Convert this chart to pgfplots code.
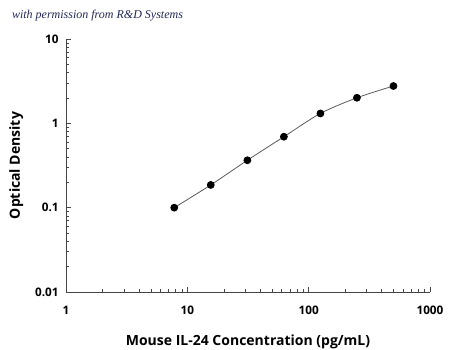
\documentclass[border=0pt]{standalone}
\usepackage{fontspec}
\setmainfont{Open Sans}
\newfontfamily\scriptf{Liberation Serif}
\usepackage{pgfplots}
\pgfplotsset{compat=1.18}
\definecolor{axgray}{RGB}{70,70,70}
\definecolor{curvegray}{RGB}{90,90,90}
\definecolor{titleblue}{RGB}{35,40,85}
\begin{document}
\begin{tikzpicture}
\useasboundingbox (-49.5pt,-43.5pt) rectangle (288pt,219pt);
\begin{axis}[
  at={(0,0)}, anchor=south west,
  scale only axis, width=273pt, height=189.75pt,
  xmode=log, ymode=log,
  xmin=1, xmax=1000, ymin=0.01, ymax=10,
  axis x line*=bottom, axis y line*=left,
  axis line style={axgray, -},
  tick style={axgray, line width=0.4pt},
  tick align=inside,
  major tick length=4pt, minor tick length=2pt,
  xtick={1,10,100,1000}, xticklabels={1,10,100,1000},
  ytick={0.01,0.1,1,10}, yticklabels={0.01,0.1,1,10},
  tick label style={font=\bfseries\fontsize{8.8}{10}\selectfont, text=black},
  xticklabel style={yshift=-7pt},
  yticklabel style={xshift=-2pt},
  xlabel={Mouse IL-24 Concentration (pg/mL)},
  ylabel={Optical Density},
  label style={font=\bfseries\fontsize{10.5}{12}\selectfont, text=black},
  xlabel style={yshift=-8pt},
  ylabel style={yshift=2pt},
  clip=false,
]
\addplot[curvegray, line width=0.6pt, smooth, mark=*, mark size=2.6pt,
  mark options={fill=black, draw=black}]
  coordinates {(7.8,0.100) (15.6,0.186) (31.25,0.365) (62.5,0.694) (125,1.31) (250,2.01) (500,2.77)};
\end{axis}
\node[anchor=west, text=titleblue, font=\scriptf\itshape\fontsize{9}{10}\selectfont] at (-44pt,207pt) {with permission from R\&D Systems};
\end{tikzpicture}
\end{document}
